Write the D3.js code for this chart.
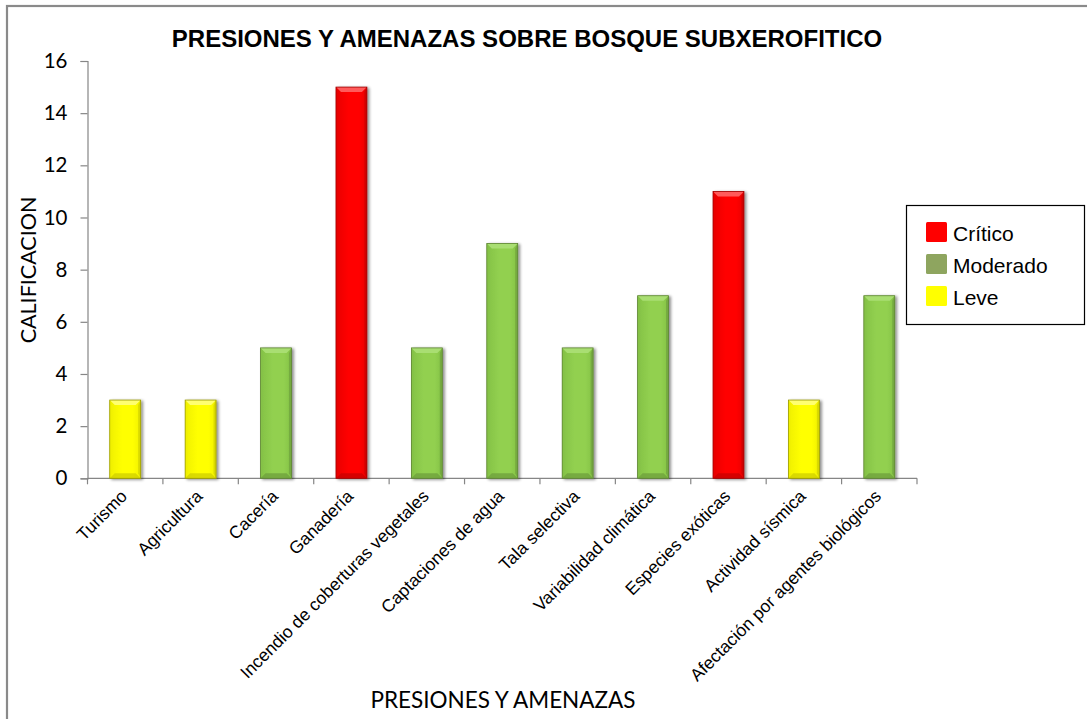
<!DOCTYPE html>
<html>
<head>
<meta charset="utf-8">
<script src="https://cdn.jsdelivr.net/npm/d3@7"></script>
<style>
  html, body { margin: 0; padding: 0; background: #fff; }
  svg { display: block; }
</style>
</head>
<body>
<svg id="chart" width="1087" height="719"></svg>
<script>
// Pressures and threats on the subxerophytic forest, scored by severity
const categories = [
  "Turismo", "Agricultura", "Cacería", "Ganadería",
  "Incendio de coberturas vegetales", "Captaciones de agua",
  "Tala selectiva", "Variabilidad climática", "Especies exóticas",
  "Actividad sísmica", "Afectación por agentes biológicos"
];
const scores = [3, 3, 5, 15, 5, 9, 5, 7, 11, 3, 7];
const levels = [
  "Leve", "Leve", "Moderado", "Crítico", "Moderado", "Moderado",
  "Moderado", "Moderado", "Crítico", "Leve", "Moderado"
];
const legendLevels = ["Crítico", "Moderado", "Leve"];
const yTicks = [0, 2, 4, 6, 8, 10, 12, 14, 16];

const title = "PRESIONES Y AMENAZAS SOBRE BOSQUE SUBXEROFITICO";
const xTitle = "PRESIONES Y AMENAZAS";
const yTitle = "CALIFICACION";

// Bar shading per severity: face, light bevel, dark bevel, outline
const palette = {
  "Crítico":  { face: "#FF0000", light: "#FF5a5a", side: "#E80000", dark: "#C80000", line: "#A00000", key: "#FF0000" },
  "Moderado": { face: "#92D050", light: "#A9DE72", side: "#84C246", dark: "#6E9F3C", line: "#5E8434", key: "#8EA55F" },
  "Leve":     { face: "#FFFF00", light: "#FFFF70", side: "#F0F000", dark: "#CFCF00", line: "#9C9C00", key: "#FFFF00" }
};

const svg = d3.select("#chart");
const margin = { left: 87.5, right: 917, top: 61, bottom: 478.3 };

const x = d3.scaleBand()
  .domain(categories)
  .range([margin.left, margin.right])
  .paddingInner(0.59)
  .paddingOuter(0.295);

// Band boundaries for the category ticks
const xEdge = d3.scaleLinear()
  .domain([0, categories.length])
  .range([margin.left, margin.right]);

const y = d3.scaleLinear()
  .domain([0, 16])
  .range([margin.bottom, margin.top]);

// Outer chart frame
svg.append("rect")
  .attr("x", 7).attr("y", 6)
  .attr("width", 1200).attr("height", 900)
  .attr("fill", "none")
  .attr("stroke", "#8a8a8a")
  .attr("stroke-width", 2.2);

// Title
svg.append("text")
  .attr("x", 527).attr("y", 47)
  .attr("text-anchor", "middle")
  .attr("font-family", "'Liberation Sans', Arial, sans-serif")
  .attr("font-weight", "bold")
  .attr("font-size", 24)
  .attr("fill", "#000")
  .text(title);

// Drop shadow for bars
const defs = svg.append("defs");
const shadow = defs.append("filter").attr("id", "shadow")
  .attr("x", "-30%").attr("y", "-10%").attr("width", "160%").attr("height", "120%");
shadow.append("feGaussianBlur").attr("in", "SourceAlpha").attr("stdDeviation", 1.6).attr("result", "b");
shadow.append("feOffset").attr("in", "b").attr("dx", 2).attr("dy", 1).attr("result", "o");
shadow.append("feComponentTransfer").attr("in", "o").attr("result", "s")
  .append("feFuncA").attr("type", "linear").attr("slope", 0.45);
const merge = shadow.append("feMerge");
merge.append("feMergeNode").attr("in", "s");
merge.append("feMergeNode").attr("in", "SourceGraphic");

// Horizontal face gradient per level
Object.entries(palette).forEach(([k, c], i) => {
  const g = defs.append("linearGradient").attr("id", "face" + i)
    .attr("x1", "0").attr("x2", "1").attr("y1", "0").attr("y2", "0");
  g.append("stop").attr("offset", "0%").attr("stop-color", c.side);
  g.append("stop").attr("offset", "40%").attr("stop-color", c.face);
  g.append("stop").attr("offset", "75%").attr("stop-color", c.face);
  g.append("stop").attr("offset", "100%").attr("stop-color", c.side);
  c.grad = "url(#face" + i + ")";
});

// Y axis
const yAxis = d3.axisLeft(y).tickValues(yTicks).tickSize(7).tickPadding(13);
const gy = svg.append("g")
  .attr("transform", `translate(${margin.left},0)`)
  .call(yAxis);
gy.select(".domain").attr("stroke", "#868686").attr("stroke-width", 1.2);
gy.selectAll(".tick line").attr("stroke", "#868686").attr("stroke-width", 1.2);
gy.selectAll(".tick text")
  .attr("font-family", "Lato, 'Open Sans', sans-serif")
  .attr("font-size", 20.5)
  .attr("fill", "#000");

// X axis line and category ticks at band edges
svg.append("line")
  .attr("x1", margin.left).attr("x2", margin.right)
  .attr("y1", margin.bottom).attr("y2", margin.bottom)
  .attr("stroke", "#868686").attr("stroke-width", 1.2);
svg.append("g").selectAll("line")
  .data(d3.range(categories.length + 1))
  .join("line")
  .attr("x1", d => xEdge(d)).attr("x2", d => xEdge(d))
  .attr("y1", margin.bottom).attr("y2", margin.bottom + 6)
  .attr("stroke", "#868686").attr("stroke-width", 1.2);

// Bevelled bars
const bev = 5;
const bars = svg.append("g").selectAll("g.bar")
  .data(categories.map((c, i) => ({ cat: c, v: scores[i], lvl: levels[i] })))
  .join("g")
  .attr("class", "bar")
  .attr("filter", "url(#shadow)");

bars.each(function(d) {
  const g = d3.select(this);
  const c = palette[d.lvl];
  const x0 = x(d.cat), w = x.bandwidth();
  const y0 = y(d.v), y1 = y(0);
  g.append("rect")
    .attr("x", x0).attr("y", y0).attr("width", w).attr("height", y1 - y0)
    .attr("fill", c.grad);
  // top bevel
  g.append("polygon")
    .attr("points", [[x0, y0], [x0 + w, y0], [x0 + w - bev, y0 + bev], [x0 + bev, y0 + bev]].join(" "))
    .attr("fill", c.light);
  // left bevel
  g.append("polygon")
    .attr("points", [[x0, y0], [x0 + bev * 0.5, y0 + bev], [x0 + bev * 0.5, y1 - bev], [x0, y1]].join(" "))
    .attr("fill", c.side).attr("opacity", 0.8);
  // right bevel
  g.append("polygon")
    .attr("points", [[x0 + w, y0], [x0 + w - bev * 0.5, y0 + bev], [x0 + w - bev * 0.5, y1 - bev], [x0 + w, y1]].join(" "))
    .attr("fill", c.dark).attr("opacity", 0.7);
  // bottom bevel
  g.append("polygon")
    .attr("points", [[x0, y1], [x0 + w, y1], [x0 + w - bev, y1 - bev], [x0 + bev, y1 - bev]].join(" "))
    .attr("fill", c.dark).attr("opacity", 0.75);
  // outline
  g.append("rect")
    .attr("x", x0).attr("y", y0).attr("width", w).attr("height", y1 - y0)
    .attr("fill", "none").attr("stroke", c.line).attr("stroke-width", 0.8);
});

// Rotated category labels
svg.append("g").selectAll("text")
  .data(categories)
  .join("text")
  .attr("transform", d => `translate(${x(d) + x.bandwidth() / 2 + 3},${margin.bottom + 19}) rotate(-45)`)
  .attr("text-anchor", "end")
  .attr("font-family", "'Liberation Sans', Arial, sans-serif")
  .attr("font-size", 17.5)
  .attr("fill", "#000")
  .text(d => d);

// Axis titles
svg.append("text")
  .attr("x", 503).attr("y", 708)
  .attr("text-anchor", "middle")
  .attr("font-family", "Lato, 'Open Sans', sans-serif")
  .attr("font-size", 22.5)
  .attr("fill", "#000")
  .text(xTitle);

svg.append("text")
  .attr("transform", "translate(36,270) rotate(-90)")
  .attr("text-anchor", "middle")
  .attr("font-family", "Lato, 'Open Sans', sans-serif")
  .attr("font-size", 21.5)
  .attr("fill", "#000")
  .text(yTitle);

// Legend
const lg = svg.append("g");
lg.append("rect")
  .attr("x", 906.5).attr("y", 205.5).attr("width", 178).attr("height", 119)
  .attr("fill", "#fff").attr("stroke", "#000").attr("stroke-width", 1.2);
const items = lg.selectAll("g.item")
  .data(legendLevels)
  .join("g")
  .attr("class", "item")
  .attr("transform", (d, i) => `translate(926,${222 + i * 32})`);
items.append("rect")
  .attr("width", 21).attr("height", 20).attr("rx", 1.5)
  .attr("fill", d => palette[d].key);
items.append("text")
  .attr("x", 27).attr("y", 18.5)
  .attr("font-family", "'Liberation Sans', Arial, sans-serif")
  .attr("font-size", 21)
  .attr("fill", "#000")
  .text(d => d);
</script>
</body>
</html>
